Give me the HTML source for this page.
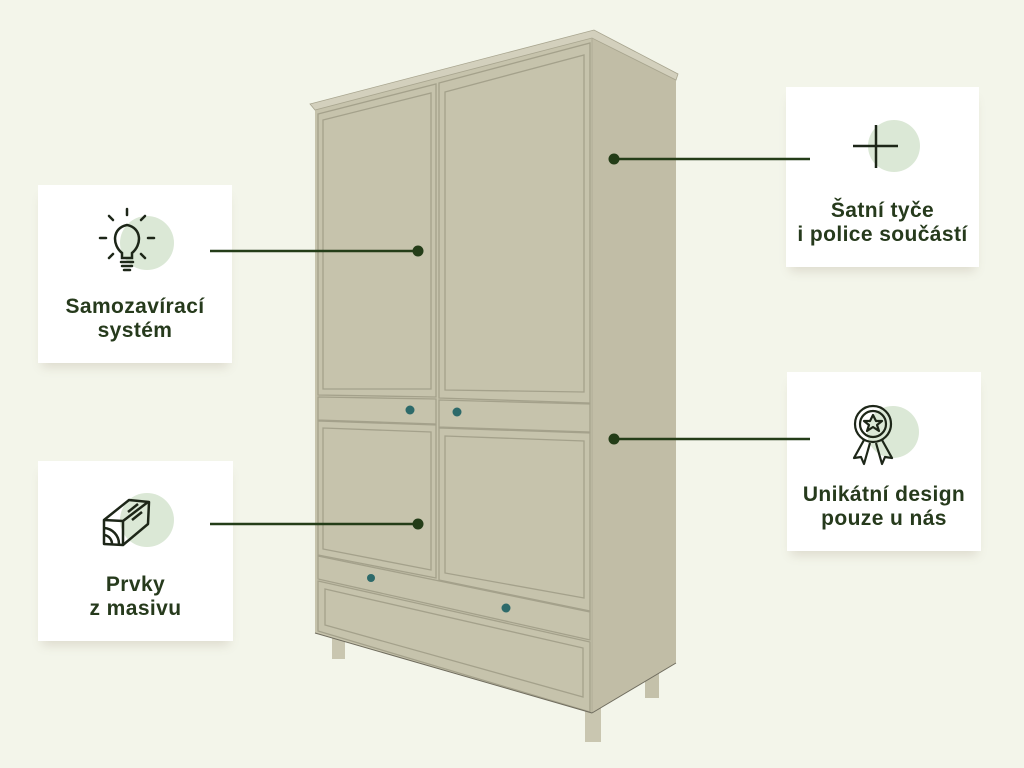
<!DOCTYPE html>
<html><head><meta charset="utf-8"><style>
html,body{margin:0;padding:0;}
body{width:1024px;height:768px;background:#f3f5ea;position:relative;overflow:hidden;font-family:"Liberation Sans",sans-serif;}
.card{position:absolute;background:#fff;box-shadow:0 8px 10px -4px rgba(120,100,80,0.18);}
.t{position:absolute;left:-10px;right:-10px;text-align:center;font-weight:bold;font-size:21px;letter-spacing:0.4px;line-height:24px;color:#263a1c;}
svg{position:absolute;left:0;top:0;}
</style></head><body>
<div class="card" style="left:38px;top:185px;width:194px;height:178px;"><div class="t" style="top:110px;">Samozavírací<br>systém</div></div>
<div class="card" style="left:38px;top:461px;width:195px;height:180px;"><div class="t" style="top:112px;">Prvky<br>z masivu</div></div>
<div class="card" style="left:786px;top:87px;width:193px;height:180px;"><div class="t" style="top:112px;">Šatní tyče<br>i police součástí</div></div>
<div class="card" style="left:787px;top:372px;width:194px;height:179px;"><div class="t" style="top:111px;">Unikátní design<br>pouze u nás</div></div>
<svg width="1024" height="768" viewBox="0 0 1024 768">
<circle cx="147" cy="243" r="27" fill="#dbe8d6"/>
<circle cx="147" cy="520" r="27" fill="#dbe8d6"/>
<circle cx="894" cy="146" r="26" fill="#dbe8d6"/>
<circle cx="893" cy="432" r="26" fill="#dbe8d6"/>
<g stroke="#1d2618" stroke-width="2.5" fill="none" stroke-linecap="round">
<path d="M122 253 C112 245 112 228 127 225 C142 228 142 245 132 253 L132 258 L122 258 Z"/>
<line x1="121" y1="262" x2="133" y2="262"/><line x1="122" y1="266" x2="132" y2="266"/><line x1="124" y1="270" x2="130" y2="270"/>
<line x1="127" y1="209" x2="127" y2="215"/><line x1="109" y1="216" x2="113" y2="220"/><line x1="145" y1="216" x2="141" y2="220"/>
<line x1="100" y1="238" x2="106" y2="238"/><line x1="148" y1="238" x2="154" y2="238"/>
<line x1="109" y1="258" x2="113" y2="254"/><line x1="145" y1="258" x2="141" y2="254"/>
</g>
<g stroke="#1d2618" stroke-width="2.5" fill="none" stroke-linejoin="round">
<path d="M104 520 L129 500 L149 502 L148 524 L123 545 L104 544 Z"/>
<path d="M104 520 L123 521 L148 502"/><line x1="123" y1="521" x2="123" y2="545"/>
<path d="M104 528 A16 16 0 0 1 119 544"/><path d="M104 535 A9 9 0 0 1 112 544"/>
<line x1="128" y1="512" x2="138" y2="504"/><line x1="132" y1="520" x2="142" y2="512"/>
</g>
<g stroke="#1d2618" stroke-width="2.5"><line x1="853" y1="146" x2="898" y2="146"/><line x1="876" y1="125" x2="876" y2="168"/></g>
<g stroke="#1d2618" stroke-width="2.2" fill="none" stroke-linejoin="round">
<circle cx="873" cy="424" r="18"/><circle cx="873" cy="424" r="13"/>
<path d="M873 415 L876 421 L882 421 L877 425 L879 431 L873 427 L867 431 L869 425 L864 421 L870 421 Z"/>
<path d="M864 440 L854 458 L861 457 L864 464 L870 443"/><path d="M882 440 L892 458 L885 457 L882 464 L876 443"/>
</g>
<rect x="332" y="628" width="13" height="31" fill="#c9c6b0"/>
<rect x="645" y="660" width="14" height="38" fill="#c4c1aa"/>
<rect x="585" y="705" width="16" height="37" fill="#c9c6b0"/>
<polygon points="592,38 676,80 676,663 592,713" fill="#c1bda6"/>
<polygon points="315,110 592,38 592,713 315,633" fill="#c6c3ac"/>
<polygon points="310,104 594,30 678,74 676,80 592,38 315,110" fill="#d3d0bd" stroke="#a8a58f" stroke-width="0.8"/>
<line x1="592" y1="38" x2="592" y2="713" stroke="#aeab95" stroke-width="1"/>
<g fill="none" stroke="#a4a18b" stroke-width="1.3">
<polygon points="318,114 436,84 436,397 318,395"/>
<polygon points="323,120 431,93 431,389 323,389"/>
<polygon points="439,83 590,43 590,403 439,398"/>
<polygon points="445,92 584,55 584,392 445,390"/>
<polygon points="318,397 436,399 436,424 318,420"/>
<polygon points="439,400 590,404 590,432 439,427"/>
<polygon points="318,421 436,425 436,578 318,555"/>
<polygon points="323,428 431,432 431,570 323,549"/>
<polygon points="439,428 590,433 590,611 439,580"/>
<polygon points="445,436 584,441 584,598 445,573"/>
<polygon points="318,556 590,612 590,640 318,579"/>
<polygon points="318,581 590,642 590,712 318,631"/>
<polygon points="325,589 583,648 583,697 325,625"/>
</g>
<line x1="315" y1="633" x2="592" y2="713" stroke="#6f6c5e" stroke-width="1"/>
<line x1="592" y1="713" x2="676" y2="663" stroke="#6f6c5e" stroke-width="1"/>
<g fill="#2d6a6a"><circle cx="410" cy="410" r="4.5"/><circle cx="457" cy="412" r="4.5"/><circle cx="371" cy="578" r="4"/><circle cx="506" cy="608" r="4.5"/></g>
<g stroke="#243d18" stroke-width="2.5"><line x1="210" y1="251" x2="418" y2="251"/><line x1="210" y1="524" x2="418" y2="524"/><line x1="614" y1="159" x2="810" y2="159"/><line x1="614" y1="439" x2="810" y2="439"/></g>
<g fill="#243d18"><circle cx="418" cy="251" r="5.5"/><circle cx="418" cy="524" r="5.5"/><circle cx="614" cy="159" r="5.5"/><circle cx="614" cy="439" r="5.5"/></g>
</svg>
</body></html>
